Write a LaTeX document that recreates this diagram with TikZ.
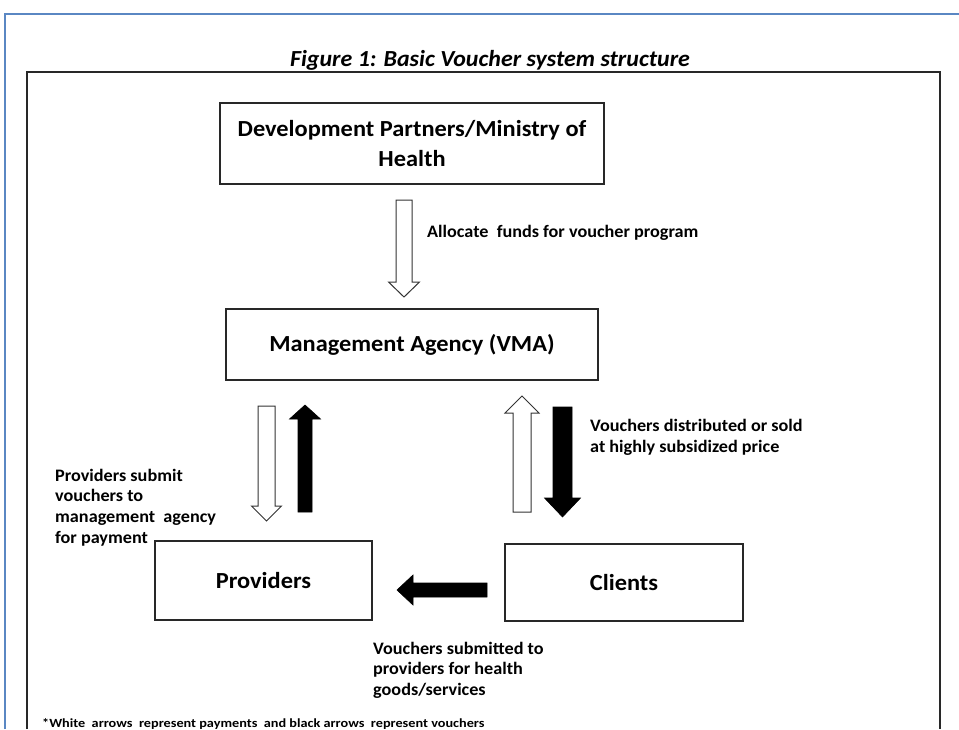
\documentclass[tikz,border=0pt]{standalone}
\usepackage{fontspec}
\setmainfont{Carlito}
\newfontfamily\boxfont[FakeStretch=1.06]{Carlito}
\newfontfamily\titlefont[FakeStretch=1.04]{Carlito}
\newfontfamily\lblfont[FakeStretch=1.04]{Carlito}
\newfontfamily\fnfont[FakeStretch=1.14]{Carlito}
\definecolor{pageblue}{RGB}{90,135,195}
\definecolor{framegray}{RGB}{40,40,40}
\begin{document}
\begin{tikzpicture}[x=1pt,y=-1pt,
  box/.style={draw=framegray,line width=1.4pt,minimum width=#1,inner sep=0pt,align=center,font=\boxfont\fontsize{23}{30}\selectfont\bfseries},
  lbl/.style={anchor=base west,align=left,inner sep=0pt,font=\lblfont\fontsize{17.5}{20.8}\selectfont\bfseries},
  whitearrow/.style={draw=black!80,line width=1pt,fill=white,line join=miter},
  blackarrow/.style={draw=black,line width=0.6pt,fill=black,line join=miter}]
\useasboundingbox (0,0) rectangle (959,729);
% page border
\draw[pageblue,line width=1.2pt] (5,729) -- (5,14) -- (959,14);
% title
\node[anchor=base,inner sep=0pt,font=\titlefont\fontsize{23}{26}\selectfont\bfseries\itshape] (title) at (490,66.5) {Figure 1: Basic Voucher system structure};
% inner frame
\draw[framegray,line width=1.6pt] (27,729) -- (27,72) -- (940,72) -- (940,729);
% boxes
\node[box=384pt,minimum height=81pt] (dp) at (412,143.5) {Development Partners/Ministry of\\Health};
\node[box=372pt,minimum height=71pt] (vma) at (412,344.5) {Management Agency (VMA)};
\node[box=217pt,minimum height=79pt] (prov) at (263.5,580.5) {Providers};
\node[box=238pt,minimum height=77pt] (cli) at (624,582.5) {Clients};
% block arrows
\draw[whitearrow] (396,200) -- (412,200) -- (412,282) -- (419.5,282) -- (404,297) -- (388.5,282) -- (396,282) -- cycle;
\draw[whitearrow] (258,406) -- (275,406) -- (275,506) -- (281.5,506) -- (266.5,521) -- (251.5,506) -- (258,506) -- cycle;
\draw[blackarrow] (298,512) -- (312,512) -- (312,419) -- (320.5,419) -- (305,405) -- (289.5,419) -- (298,419) -- cycle;
\draw[whitearrow] (513,512) -- (531,512) -- (531,413) -- (539,413) -- (522,396) -- (505,413) -- (513,413) -- cycle;
\draw[blackarrow] (553,407) -- (572,407) -- (572,498) -- (580.5,498) -- (562.5,517) -- (544.5,498) -- (553,498) -- cycle;
\draw[blackarrow] (487,583) -- (487,597) -- (413,597) -- (413,605) -- (397,590) -- (413,575) -- (413,583) -- cycle;
% labels (base anchor = baseline of last line)
\node[lbl] (l1) at (427,237) {Allocate\ \ funds for voucher program};
\node[lbl,font=\lblfont\fontsize{17.5}{21.5}\selectfont\bfseries] (l2) at (590,452.5) {Vouchers distributed or sold\\at highly subsidized price};
\node[lbl] (l3) at (55,543.4) {Providers submit\\vouchers to\\management\ \ agency\\for payment};
\node[lbl] (l4) at (373,695.6) {Vouchers submitted to\\providers for health\\goods/services};
\node[anchor=base west,inner sep=0pt,font=\fnfont\fontsize{12.5}{14}\selectfont\bfseries] (fn) at (42,727) {*White\ \ arrows\ \ represent payments\ \ and black arrows\ \ represent vouchers};
\end{tikzpicture}
\end{document}
